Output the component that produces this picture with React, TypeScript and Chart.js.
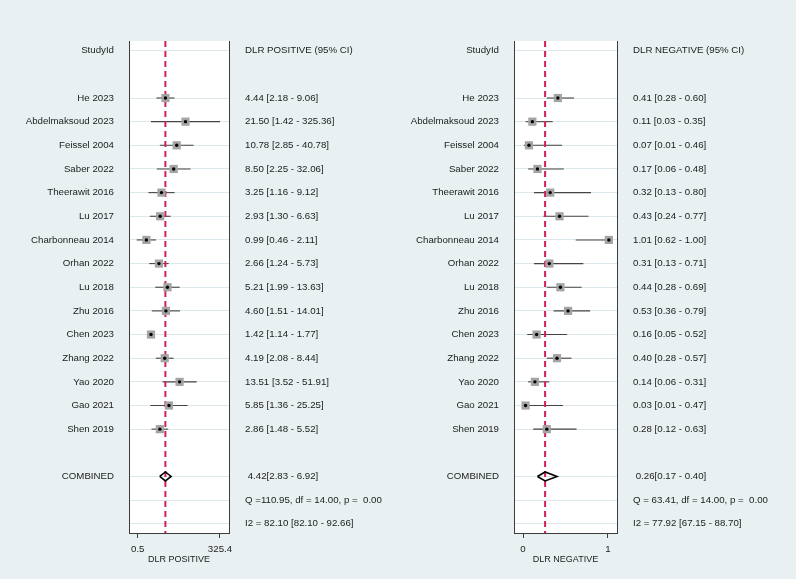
import React, { useEffect, useRef } from "react";
import { Chart, registerables } from "chart.js";

Chart.register(...registerables);

// ---- study data -------------------------------------------------------------
const studies = [
  "He 2023",
  "Abdelmaksoud 2023",
  "Feissel 2004",
  "Saber 2022",
  "Theerawit 2016",
  "Lu 2017",
  "Charbonneau 2014",
  "Orhan 2022",
  "Lu 2018",
  "Zhu 2016",
  "Chen 2023",
  "Zhang 2022",
  "Yao 2020",
  "Gao 2021",
  "Shen 2019",
];

// positive likelihood ratio: estimate, lower and upper 95% CI
const plrEst = [4.44, 21.5, 10.78, 8.5, 3.25, 2.93, 0.99, 2.66, 5.21, 4.6, 1.42, 4.19, 13.51, 5.85, 2.86];
const plrLo = [2.18, 1.42, 2.85, 2.25, 1.16, 1.3, 0.46, 1.24, 1.99, 1.51, 1.14, 2.08, 3.52, 1.36, 1.48];
const plrHi = [9.06, 325.36, 40.78, 32.06, 9.12, 6.63, 2.11, 5.73, 13.63, 14.01, 1.77, 8.44, 51.91, 25.25, 5.52];

// negative likelihood ratio: estimate, lower and upper 95% CI
const nlrEst = [0.41, 0.11, 0.07, 0.17, 0.32, 0.43, 1.01, 0.31, 0.44, 0.53, 0.16, 0.4, 0.14, 0.03, 0.28];
const nlrLo = [0.28, 0.03, 0.01, 0.06, 0.13, 0.24, 0.62, 0.13, 0.28, 0.36, 0.05, 0.28, 0.06, 0.01, 0.12];
const nlrHi = [0.6, 0.35, 0.46, 0.48, 0.8, 0.77, 1.0, 0.71, 0.69, 0.79, 0.52, 0.57, 0.31, 0.47, 0.63];

// pooled estimate [est, lo, hi]
const plrPooled = [4.42, 2.83, 6.92];
const nlrPooled = [0.26, 0.17, 0.4];

// heterogeneity lines
const plrHet = ["Q =110.95, df = 14.00, p =  0.00", "I2 = 82.10 [82.10 - 92.66]"];
const nlrHet = ["Q = 63.41, df = 14.00, p =  0.00", "I2 = 77.92 [67.15 - 88.70]"];

// axis ticks
const plrTicks = [0.5, 325.4];
const plrTickLabels = ["0.5", "325.4"];
const nlrTicks = [0, 1];
const nlrTickLabels = ["0", "1"];

// ---- layout of rows ---------------------------------------------------------
const HEADER_ROW = 0;
const FIRST_STUDY_ROW = 2;
const POOLED_ROW = 18;
const Q_ROW = 19;
const I2_ROW = 20;
const Y_MIN = -0.41;
const Y_MAX = 20.39;

const FONT = "'Liberation Sans', Arial, Helvetica, sans-serif";
const TEXT = "#1c1c1c";
const FRAME = "#3c3c3c";
const GRID = "#dde8ec";
const REF_RED = "#d41f52";

const fmt = (v: number) => v.toFixed(2);

interface PanelSpec {
  xType: "logarithmic" | "linear";
  xMin: number;
  xMax: number;
  ticks: number[];
  tickLabels: string[];
  title: string;
  header: string;
  est: number[];
  lo: number[];
  hi: number[];
  pooled: number[];
  het: string[];
  yWidth: number;
  y2Width: number;
}

const plrSpec: PanelSpec = {
  xType: "logarithmic",
  xMin: 0.2515,
  xMax: 662.4,
  ticks: plrTicks,
  tickLabels: plrTickLabels,
  title: "DLR POSITIVE",
  header: "DLR POSITIVE (95% CI)",
  est: plrEst,
  lo: plrLo,
  hi: plrHi,
  pooled: plrPooled,
  het: plrHet,
  yWidth: 129,
  y2Width: 171,
};

const nlrSpec: PanelSpec = {
  xType: "linear",
  xMin: -0.106,
  xMax: 1.106,
  ticks: nlrTicks,
  tickLabels: nlrTickLabels,
  title: "DLR NEGATIVE",
  header: "DLR NEGATIVE (95% CI)",
  est: nlrEst,
  lo: nlrLo,
  hi: nlrHi,
  pooled: nlrPooled,
  het: nlrHet,
  yWidth: 114,
  y2Width: 179,
};

const whiteArea = {
  id: "whiteArea",
  beforeDraw(chart: any) {
    const { ctx, chartArea } = chart;
    ctx.save();
    ctx.fillStyle = "#ffffff";
    ctx.fillRect(chartArea.left, chartArea.top, chartArea.right - chartArea.left, chartArea.bottom - chartArea.top);
    ctx.restore();
  },
};

function buildConfig(spec: PanelSpec): any {
  const rows = [HEADER_ROW, ...spec.est.map((_, i) => i + FIRST_STUDY_ROW), POOLED_ROW, Q_ROW, I2_ROW];

  const leftText: string[] = new Array(I2_ROW + 1).fill("");
  const rightText: string[] = new Array(I2_ROW + 1).fill("");
  leftText[HEADER_ROW] = "StudyId";
  rightText[HEADER_ROW] = spec.header;
  studies.forEach((s, i) => {
    leftText[i + FIRST_STUDY_ROW] = s;
    rightText[i + FIRST_STUDY_ROW] = `${fmt(spec.est[i])} [${fmt(spec.lo[i])} - ${fmt(spec.hi[i])}]`;
  });
  leftText[POOLED_ROW] = "COMBINED";
  rightText[POOLED_ROW] = ` ${fmt(spec.pooled[0])}[${fmt(spec.pooled[1])} - ${fmt(spec.pooled[2])}]`;
  rightText[Q_ROW] = spec.het[0];
  rightText[I2_ROW] = spec.het[1];

  const points = spec.est.map((e, i) => ({ x: e, y: i + FIRST_STUDY_ROW }));
  const [pe, pl, ph] = spec.pooled;
  const dh = 0.19;

  const ciSets = spec.est.map((_, i) => ({
    showLine: true,
    data: [
      { x: spec.lo[i], y: i + FIRST_STUDY_ROW },
      { x: spec.hi[i], y: i + FIRST_STUDY_ROW },
    ],
    borderColor: "#444444",
    borderWidth: 1.1,
    pointRadius: 0,
    order: 5,
  }));

  const yTickFont = { family: FONT, size: 9.7 };
  const setRows = (scale: any) => {
    scale.ticks = rows.map((v) => ({ value: v }));
  };

  return {
    type: "scatter",
    data: {
      datasets: [
        {
          data: points,
          pointStyle: "circle",
          pointRadius: 1.7,
          backgroundColor: "#000000",
          borderWidth: 0,
          order: 0,
        },
        {
          data: points,
          pointStyle: "rect",
          pointRadius: 5.8,
          backgroundColor: "#a4a4a4",
          borderWidth: 0,
          order: 1,
        },
        {
          showLine: true,
          data: [
            { x: pl, y: POOLED_ROW },
            { x: pe, y: POOLED_ROW - dh },
            { x: ph, y: POOLED_ROW },
            { x: pe, y: POOLED_ROW + dh },
            { x: pl, y: POOLED_ROW },
          ],
          borderColor: "#000000",
          borderWidth: 1.6,
          pointRadius: 0,
          fill: false,
          order: 2,
        },
        {
          showLine: true,
          data: [
            { x: pe, y: Y_MIN },
            { x: pe, y: Y_MAX },
          ],
          borderColor: REF_RED,
          borderWidth: 2,
          borderDash: [6, 4],
          pointRadius: 0,
          order: 3,
        },
        ...ciSets,
      ],
    },
    options: {
      responsive: false,
      animation: false,
      events: [],
      layout: { padding: { top: 41, left: 0, right: 0, bottom: 0 } },
      plugins: { legend: { display: false }, tooltip: { enabled: false }, title: { display: false } },
      scales: {
        x: {
          type: spec.xType,
          position: "bottom",
          min: spec.xMin,
          max: spec.xMax,
          afterBuildTicks: (scale: any) => {
            scale.ticks = spec.ticks.map((v) => ({ value: v }));
          },
          afterFit: (scale: any) => {
            scale.height = 46;
          },
          grid: { drawOnChartArea: false, drawTicks: true, tickLength: 5, color: FRAME, lineWidth: 1 },
          border: { display: true, color: FRAME, width: 1 },
          ticks: {
            autoSkip: false,
            maxRotation: 0,
            padding: 6,
            color: TEXT,
            font: { family: FONT, size: 9.7 },
            callback: (_v: any, i: number) => spec.tickLabels[i],
          },
          title: {
            display: true,
            text: spec.title,
            color: TEXT,
            font: { family: FONT, size: 9 },
            padding: { top: 0, bottom: 13.8 },
          },
        },
        y: {
          type: "linear",
          position: "left",
          reverse: true,
          min: Y_MIN,
          max: Y_MAX,
          afterBuildTicks: setRows,
          afterFit: (scale: any) => {
            scale.width = spec.yWidth;
          },
          grid: { display: true, drawTicks: false, color: GRID, lineWidth: 1 },
          border: { display: true, color: FRAME, width: 1 },
          ticks: {
            autoSkip: false,
            padding: 15,
            color: TEXT,
            font: yTickFont,
            callback: (v: any) => leftText[Math.round(Number(v))] ?? "",
          },
        },
        y2: {
          type: "linear",
          axis: "y",
          position: "right",
          reverse: true,
          min: Y_MIN,
          max: Y_MAX,
          afterBuildTicks: setRows,
          afterFit: (scale: any) => {
            scale.width = spec.y2Width;
          },
          grid: { display: false, drawTicks: false },
          border: { display: true, color: FRAME, width: 1 },
          ticks: {
            autoSkip: false,
            padding: 16,
            crossAlign: "near",
            color: TEXT,
            font: yTickFont,
            callback: (v: any) => rightText[Math.round(Number(v))] ?? "",
          },
        },
      },
    },
    plugins: [whiteArea],
  };
}

function ForestPanel({ spec, width }: { spec: PanelSpec; width: number }) {
  const ref = useRef<HTMLCanvasElement>(null);
  useEffect(() => {
    const chart = new Chart(ref.current as HTMLCanvasElement, buildConfig(spec));
    return () => chart.destroy();
  }, [spec]);
  return <canvas ref={ref} width={width} height={579} style={{ display: "block", width, height: 579 }} />;
}

export default function App() {
  return (
    <div
      style={{
        position: "absolute",
        left: 0,
        top: 0,
        width: 796,
        height: 579,
        background: "#e8f0f2",
        display: "flex",
      }}
    >
      <ForestPanel spec={plrSpec} width={400} />
      <ForestPanel spec={nlrSpec} width={396} />
    </div>
  );
}
